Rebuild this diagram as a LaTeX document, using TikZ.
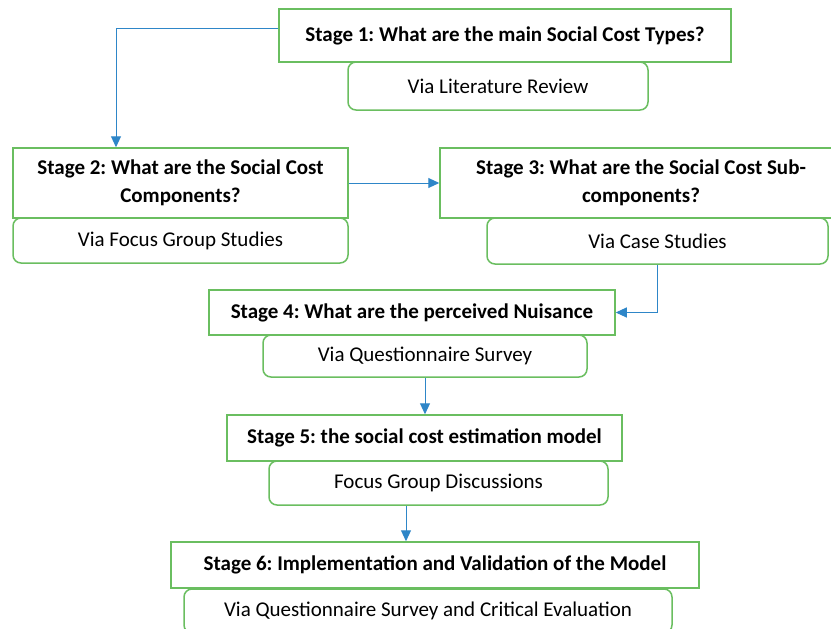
\documentclass[tikz,border=0pt]{standalone}
\usepackage{fontspec}
\setmainfont{Carlito}
\usetikzlibrary{arrows.meta}
\frenchspacing

\definecolor{boxColor}{RGB}{106,190,96}
\definecolor{arrowColor}{RGB}{46,134,200}

\begin{document}
\begin{tikzpicture}[x=1pt,y=-1pt,
  stagebox/.style={draw=boxColor,line width=1.5pt,fill=white,inner sep=0pt,
    align=center,font=\fontsize{21}{28}\selectfont\bfseries},
  viabox/.style={draw=boxColor,line width=1.5pt,fill=white,inner sep=0pt,
    rounded corners=8pt,align=center,font=\fontsize{21}{28}\selectfont},
  flow/.style={draw=arrowColor,line width=1pt,-{Triangle[length=11pt,width=10pt]}}]
\path[use as bounding box,fill=white] (  0.00,  0.00) rectangle (831.00,629.00);

% stages and how each one is answered
\node[stagebox,minimum width=452pt,minimum height=53pt] (s1) at (505.0, 35.5) {Stage 1: What are the main Social Cost Types?};
\node[viabox,minimum width=300pt,minimum height=48pt] (v1) at (498.0, 86.0) {Via Literature Review};

\node[stagebox,minimum width=335pt,minimum height=70pt] (s2) at (180.5,183.0) {Stage 2: What are the Social Cost\\Components?};
\node[viabox,minimum width=335pt,minimum height=45pt] (v2) at (180.5,240.5) {Via Focus Group Studies};

\node[stagebox,minimum width=402pt,minimum height=70pt] (s3) at (641.0,183.0) {Stage 3: What are the Social Cost Sub-\\components?};
\node[viabox,minimum width=341pt,minimum height=46pt] (v3) at (657.5,241.0) {Via Case Studies};

\node[stagebox,minimum width=406pt,minimum height=45pt] (s4) at (412.0,312.5) {Stage 4: What are the perceived Nuisance};
\node[viabox,minimum width=324pt,minimum height=42pt] (v4) at (425.0,356.0) {Via Questionnaire Survey};

\node[stagebox,minimum width=395pt,minimum height=46pt] (s5) at (424.5,438.0) {Stage 5: the social cost estimation model};
\node[viabox,minimum width=339pt,minimum height=44pt] (v5) at (438.5,483.0) {Focus Group Discussions};

\node[stagebox,minimum width=528pt,minimum height=46pt] (s6) at (435.0,565.0) {Stage 6: Implementation and Validation of the Model};
\node[viabox,minimum width=488pt,minimum height=44pt] (v6) at (428.0,611.0) {Via Questionnaire Survey and Critical Evaluation};

% connectors
\draw[flow] ([yshift=7.5pt]s1.west) -| ([xshift=-64.5pt]s2.north);
\draw[flow] (s2.east) -- (s3.west);
\draw[flow] (v3.south) |- (s4.east);
\draw[flow] (v4.south) -- (v4.south |- s5.north);
\draw[flow] ([xshift=-32.5pt]v5.south) -- ([xshift=-32.5pt]v5.south |- s6.north);
\end{tikzpicture}
\end{document}
